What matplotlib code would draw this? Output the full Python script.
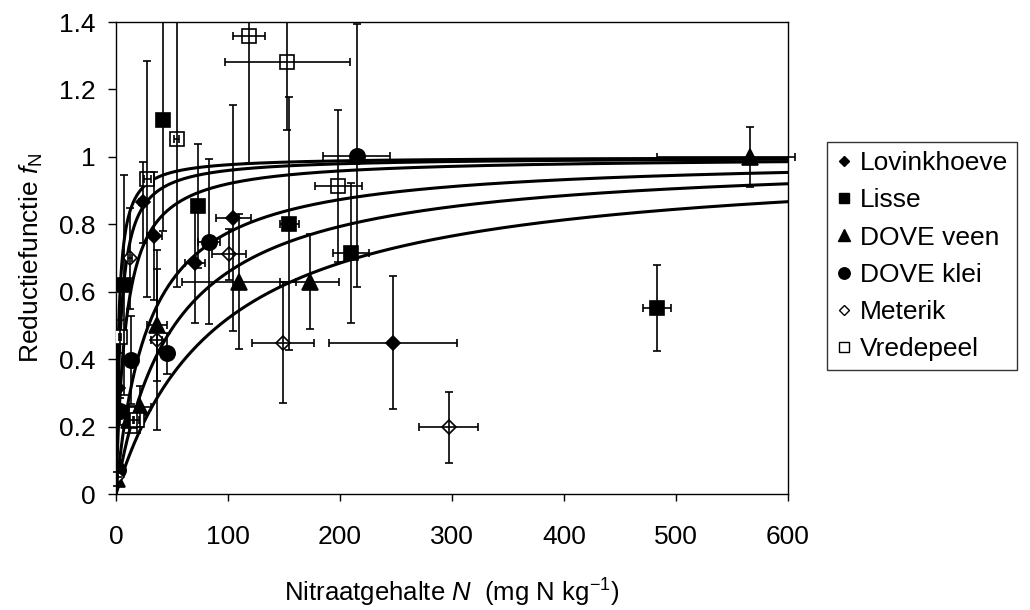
import numpy as np
import matplotlib
matplotlib.use("Agg")
import matplotlib.pyplot as plt

plt.rcParams['font.family'] = ['Liberation Sans', 'DejaVu Sans']
plt.rcParams['mathtext.fontset'] = 'custom'
plt.rcParams['mathtext.rm'] = 'Liberation Sans'
plt.rcParams['mathtext.it'] = 'Liberation Sans:italic'

# --- measured data per site: nitrate N (mg N/kg), reduction f_N, error bars ---
lov_n = [2.1, 23.8, 34.2, 70.5, 104.8, 247.3]
lov_f = [0.315, 0.865, 0.766, 0.684, 0.818, 0.449]
lov_yerr = [0.03, 0.12, 0.19, 0.176, 0.336, 0.197]
lov_xerr = [1.0, 3.0, 6.7, 9.0, 15.6, 57.0]

lis_n = [7.0, 42.3, 72.9, 154.6, 209.8, 482.7]
lis_f = [0.620, 1.109, 0.854, 0.802, 0.714, 0.551]
lis_yerr = [0.325, 0.33, 0.185, 0.375, 0.208, 0.127]
lis_xerr = [2.0, 1.0, 1.0, 8.5, 15.8, 12.6]

veen_n = [1.0, 11.9, 21.4, 36.9, 109.5, 172.9, 566.0]
veen_f = [0.045, 0.220, 0.259, 0.501, 0.630, 0.630, 1.000]
veen_yerr = [0.02, 0.04, 0.06, 0.165, 0.20, 0.14, 0.09]
veen_xerr_lo = [0.5, 3.0, 10.0, 9.0, 51.0, 26.5, 83.0]
veen_xerr_hi = [0.5, 3.0, 10.0, 9.0, 51.0, 26.5, 40.0]

klei_n = [2.1, 3.6, 13.1, 45.2, 83.3, 214.9]
klei_f = [0.071, 0.246, 0.397, 0.417, 0.748, 1.003]
klei_yerr = [0.02, 0.04, 0.13, 0.06, 0.245, 0.39]
klei_xerr = [0.5, 1.0, 2.0, 3.0, 10.0, 30.0]

met_n = [0.5, 12.5, 36.3, 100.9, 149.1, 297.0]
met_f = [0.050, 0.699, 0.457, 0.711, 0.449, 0.198]
met_yerr = [0.02, 0.15, 0.267, 0.075, 0.18, 0.105]
met_xerr = [0.5, 2.0, 5.0, 15.0, 27.5, 26.5]

vre_n = [3.6, 18.5, 28.0, 54.2, 118.8, 152.9, 198.5]
vre_f = [0.467, 0.220, 0.933, 1.053, 1.359, 1.281, 0.914]
vre_yerr = [0.05, 0.04, 0.35, 0.44, 0.377, 0.20, 0.226]
vre_xerr = [1.0, 2.0, 3.0, 2.0, 14.0, 56.0, 20.8]

# half-saturation constants of the fitted curves f = N / (N + K)
curve_k = [2.4, 4.2, 8.7, 29.0, 52.0, 92.0]

x_ticks = [0, 100, 200, 300, 400, 500, 600]
y_ticks = [0, 0.2, 0.4, 0.6, 0.8, 1.0, 1.2, 1.4]
y_ticklabels = ['0', '0.2', '0.4', '0.6', '0.8', '1', '1.2', '1.4']

fig = plt.figure(figsize=(10.3, 6.1), dpi=100)
ax = fig.add_axes([116 / 1030, 1 - 494 / 610, (788 - 116) / 1030, (494 - 22) / 610])

# fitted curves
nn = np.linspace(0, 600, 1200)
for k in curve_k:
    ax.plot(nn, nn / (nn + k), color='black', lw=2.2, zorder=3)

common = dict(ecolor='black', elinewidth=1.2, capsize=3, capthick=1.2,
              linestyle='none', barsabove=True, zorder=4)

series = [
    ('Lovinkhoeve', lov_n, lov_f, lov_xerr, lov_yerr, 'D', 7.0, 'black'),
    ('Lisse', lis_n, lis_f, lis_xerr, lis_yerr, 's', 10.5, 'black'),
    ('DOVE veen', veen_n, veen_f, [veen_xerr_lo, veen_xerr_hi], veen_yerr, '^', 11.0, 'black'),
    ('DOVE klei', klei_n, klei_f, klei_xerr, klei_yerr, 'o', 11.0, 'black'),
    ('Meterik', met_n, met_f, met_xerr, met_yerr, 'D', 6.8, 'white'),
    ('Vredepeel', vre_n, vre_f, vre_xerr, vre_yerr, 's', 10.0, 'white'),
]

handles = []
for name, xs, ys, xe, ye, mk, ms, fc in series:
    eb = ax.errorbar(xs, ys, xerr=xe, yerr=ye, marker=mk, markersize=ms,
                     markerfacecolor=fc, markeredgecolor='black', markeredgewidth=1.2,
                     **common)
    if name == 'DOVE veen':
        for art in list(eb.lines[1]) + list(eb.lines[2]):
            art.set_clip_on(False)
    h, = ax.plot([], [], linestyle='none', marker=mk, markersize=ms * 0.75,
                 markerfacecolor=fc, markeredgecolor='black', markeredgewidth=1.0,
                 label=name)
    handles.append(h)

ax.set_xlim(0, 600)
ax.set_ylim(0, 1.4)
ax.set_xticks(x_ticks)
ax.set_yticks(y_ticks)
ax.set_yticklabels(y_ticklabels)
ax.tick_params(axis='both', direction='out', labelsize=19, width=1.0, color='black')
ax.tick_params(axis='y', length=6, pad=9)
ax.tick_params(axis='x', length=5, pad=17)
for sp in ax.spines.values():
    sp.set_linewidth(1.0)
    sp.set_color('black')

ax.set_ylabel('Reductiefunctie $f_{\\mathrm{N}}$', fontsize=19, labelpad=10)
ax.set_xlabel('Nitraatgehalte $N$  (mg N kg$^{-1}$)', fontsize=18.5, labelpad=20)

leg = fig.legend(handles=handles, loc='upper left',
                 bbox_to_anchor=(827 / 1030, 1 - 142 / 610),
                 fontsize=19, frameon=True, fancybox=False, edgecolor='black',
                 handlelength=0.6, handletextpad=0.3, labelspacing=0.5,
                 borderpad=0.35, borderaxespad=0)
leg.get_frame().set_linewidth(1.0)

fig.savefig('out.png', dpi=100, facecolor='white')
